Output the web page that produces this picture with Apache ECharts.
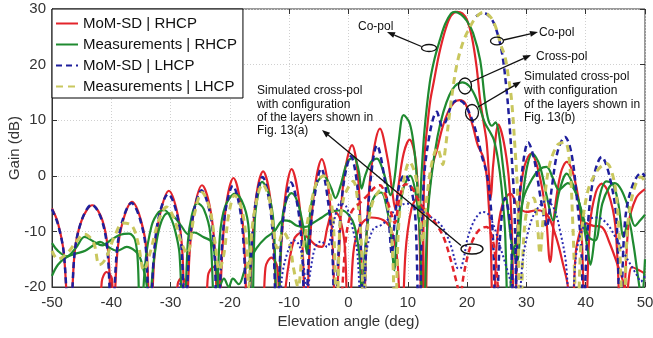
<!DOCTYPE html>
<html><head><meta charset="utf-8">
<script src="https://cdn.jsdelivr.net/npm/echarts@6/dist/echarts.min.js"></script>
<style>html,body{margin:0;padding:0;background:#fff}#c{width:653px;height:338px}</style>
</head><body><div id="c"></div><script>
const xTicks = [-50,-40,-30,-20,-10,0,10,20,30,40,50];
const yTicks = [-20,-10,0,10,20,30];
const legendNames = ['MoM-SD | RHCP','Measurements | RHCP','MoM-SD | LHCP','Measurements | LHCP'];

// MoM-SD | RHCP (red solid) - co-pol
const momRhcpCo = [[-50,-5.9],[-49,-8.5],[-48,-14],[-47,-30],
[-46.2,-14],[-45,-8],[-43.2,-5.3],[-41.5,-8],[-40.5,-14],[-39.8,-30],
[-39,-14],[-38,-8],[-36.5,-4.7],[-35,-8],[-34,-14],[-33.5,-30],
[-32.7,-14],[-31.8,-7],[-30.3,-2.7],[-28.8,-7],[-28,-14],[-27.5,-30],
[-26.8,-14],[-26,-6],[-24.7,-1.7],[-23.3,-6],[-22.5,-14],[-22,-30],
[-21.3,-14],[-20.6,-5],[-19.4,-0.4],[-18.2,-5],[-17.5,-14],[-17,-30],
[-16.3,-14],[-15.6,-4],[-14.4,0.8],[-13.2,-4],[-12.5,-14],[-12,-30],
[-11.4,-14],[-10.7,-4],[-9.6,1.2],[-8.4,-4],[-7.7,-14],[-7.2,-30],
[-6.6,-14],[-5.8,-3],[-4.5,3],[-3.3,-3],[-2.6,-14],[-2.2,-30],
[-1.6,-14],[-0.8,-0.5],[0.6,5.5],[1.6,0],[2.1,-12],[2.5,-30],
[3,-12],[3.8,1],[5.3,8.5],[6.6,3],[7.4,-3],[7.9,-6],[8.4,-2],[9.3,4],[10.3,6.5],[11.3,3],[11.9,-8],[12.4,-30],
[12.8,3],[13.3,9],[13.8,13.6],[14.4,17],[15.3,22],[16.4,26.5],[17.3,28.8],[18.3,29.5],[19.2,29.2],[20,28],[20.8,25],[21.6,19.6],[22.2,13.6],[22.8,9.5],[23.3,6],[23.7,0],[24,-4],[24.4,2],[25.3,9.2],[26.2,6],[27,0],[27.5,-8],[28,-30],
[28.6,-8],[29.5,1],[30.8,4],[32,1],[33.2,-6],[34,-15.5],[34.8,-6],[35.8,0.5],[36.8,2.5],[38,0],[39.2,-8],[39.9,-30],[40.7,-9],[41.7,-3],[42.7,-1.4],[43.8,-3],[45,-9],[46.1,-30],[47.2,-9],[48.5,-4],[50,-2.4]];

// MoM-SD | RHCP (red solid) - cross-pol
const momRhcpX = [[-50,-32],[-42.3,-32],[-41.6,-19],[-40.8,-17.3],[-39.9,-18.5],[-39.3,-32],[-29.5,-32],[-28.8,-19.5],[-28.1,-18.3],[-27.4,-19.5],[-26.8,-32],[-24.4,-32],[-23.7,-18],[-22.8,-16.4],[-21.8,-18],[-21,-32],[-14.8,-32],[-14,-16.5],[-13,-14.7],[-12,-16.5],[-11.3,-32],[-10.6,-20],[-9.2,-11.5],[-7.9,-10.2],[-6.7,-11.3],[-5.5,-12.5],[-4.5,-12.8],[-3.5,-9],[-2.6,-6.2],[-1.5,-7.5],[-0.6,-13],[0,-32],[0.8,-14],[2,-9],[3.8,-7.5],[5.9,-8],[7.3,-10],[8.3,-16],[8.9,-32],[9.6,-14],[10.6,-6],[11.6,-4],[12.4,-7],[12.9,-32],
[13.4,-6],[14.2,2],[14.9,4.6],[15.8,8.5],[16.8,11.5],[17.8,13.2],[18.7,13.6],[19.7,13],[21,8.8],[21.8,5.5],[22.7,3.4],[23.3,0],[23.6,-4.4],[24,-12],[24.4,-32],[25,-12],[26,-5],[27.3,-3.2],[28.6,-5.5],[30,-6.5],[31.8,-6.2],[33.5,-7],[35,-11],[36.2,-16],[37,-20],[37.6,-32],[38.3,-14],[39.2,-9.5],[39.9,-8.5],[41.3,-9],[42.7,-9.2],[44,-12],[45.5,-16.4],[46.3,-19],[46.8,-22],[47.8,-16.4],[49,-17],[50,-17.6]];

// Measurements | RHCP (green solid) - co-pol
const measRhcpCo = [[-50,-12.1],[-49,-13.5],[-47.5,-14.5],[-46,-13],[-44.5,-11],[-43,-11.8],[-41.5,-12.5],[-40,-11.5],[-38.5,-10.6],[-37,-10.4],[-36,-11.5],[-35.5,-16],[-35.1,-30],[-34.3,-16],[-33.2,-9],[-32,-6.5],[-31,-6.2],[-30,-7.5],[-29.2,-10],[-28.5,-14],[-27.8,-30],[-27.1,-12],[-26.4,-7],[-25.5,-4.9],[-24.4,-6],[-23.3,-10.5],[-22.5,-30],[-21.7,-11],[-20.8,-5.5],[-19.1,-3.2],[-17.6,-5.5],[-16.8,-10],[-16.3,-30],[-15.8,-8],[-15.2,-3],[-14.6,-1.1],[-13.5,-3],[-12.6,-9],[-12,-30],[-11.2,-8],[-10.5,-4.5],[-9.6,-3.1],[-8.5,-5],[-7.5,-10],[-7,-14],[-6.4,-6],[-5.4,-1.5],[-4.2,0],[-3,-2],[-2.2,-4],[-1.4,-2],[-0.2,2.5],[0.9,3.3],[1.7,1],[2.2,-2.3],[2.8,0],[3.8,2.5],[4.8,3.1],[5.8,1],[6.6,-2],[7.1,-3.5],[7.7,-1],[8.5,6.5],[9.3,10.9],[10.3,9.5],[11,5.5],[11.5,0],[11.9,-8],[12.3,0],[12.8,8],[13.7,16.7],[14.5,21],[15.4,24.4],[16.3,27.3],[17.3,29.2],[18,29.5],[19,29],[20,27.8],[21,25.7],[22.2,20.8],[23,13.6],[23.6,10],[24.2,9],[24.8,9.6],[25.3,8],[25.8,4],[26.7,-4.4],[27.5,-12],[28.4,-15.4],[29.2,-6],[30,1],[31,4],[32.2,2],[33.5,-4],[34.5,-8],[35.5,-3],[36.8,0.4],[38,-2],[39.5,-7],[40.5,-11],[41.6,-11.6],[42.8,-5],[44,-2],[44.9,-1.3],[46,-2.5],[47.3,-6],[48.3,-9],[49.2,-8],[50,-7]];

// Measurements | RHCP (green solid) - cross-pol
const measRhcpX = [[-50,-18],[-49,-16],[-47.5,-14.6],[-46,-14],[-44.4,-13.5],[-43,-12.5],[-41.9,-11.9],[-40.5,-12.8],[-39,-13.5],[-37.4,-12.8],[-36,-13.5],[-35.2,-14.6],[-34.3,-18],[-33.6,-22],[-32.8,-15],[-31.8,-9],[-30.5,-6.7],[-29.3,-7.5],[-28.2,-9],[-27,-10.5],[-26,-10.2],[-24.5,-11],[-23,-12],[-22.4,-16],[-21.8,-20],[-21,-18.5],[-20.2,-20],[-19.5,-18.5],[-18.5,-19.5],[-17.5,-17],[-16.5,-15],[-15.5,-13],[-14,-11.2],[-12.5,-10],[-11,-8],[-9.8,-8.2],[-8.7,-9],[-7.3,-9.2],[-6,-8.5],[-4.5,-7.5],[-3,-6.5],[-1.2,-6.2],[0,-7],[1,-9],[1.8,-14],[2.3,-22],[2.8,-13],[3.6,-6],[4.5,-3.5],[5.5,-3],[6.5,-6],[7.2,-11],[7.7,-17],[8.2,-10],[9.2,-2.5],[10.4,0],[11.3,-3],[12,-10],[12.6,-30],[13.3,-8],[14,0],[15,7],[16,11.5],[17,14.5],[18,16.2],[19.2,16.8],[20.3,16.2],[21.3,14.5],[22.2,12],[23,9.5],[23.8,8],[24.5,6.5],[25.2,3],[25.8,-2],[26.4,-10],[27,-30],[27.6,-14],[28.3,-12],[29.5,-4],[31,-0.5],[32.3,1.2],[33.4,1.6],[34.5,-0.5],[35.5,-2.5],[37,-1.3],[38.5,-3.5],[39.5,-8],[40.3,-13],[40.8,-16],[41.4,-12],[42.3,-4],[43.5,-1],[44.6,-1.5],[45.5,-5],[46.4,-11],[47.2,-8],[48,-12],[48.8,-18],[49.4,-22],[50,-15]];

// MoM-SD | LHCP (blue dashed)
const momLhcp = [[-50,-6],[-49,-8.7],[-48,-14],[-47,-30],[-46.2,-14],[-45,-8],[-43.3,-5.2],[-41.6,-8],[-40.6,-14],[-39.9,-30],[-39.1,-14],[-38.1,-8],[-36.6,-4.9],[-35.1,-8],[-34.1,-14],[-33.6,-30],[-32.8,-14],[-31.9,-7],[-30.4,-3.3],[-28.9,-7],[-28.1,-14],[-27.6,-30],[-26.9,-14],[-26.1,-6.5],[-24.8,-2.6],[-23.4,-6.5],[-22.6,-14],[-22.1,-30],[-21.4,-14],[-20.7,-6],[-19.5,-1.8],[-18.3,-6],[-17.6,-14],[-17.1,-30],[-16.4,-14],[-15.7,-5],[-14.5,-0.2],[-13.3,-5],[-12.6,-14],[-12.1,-30],[-11.5,-14],[-10.8,-6],[-9.7,-1.2],[-8.5,-6],[-7.8,-14],[-7.3,-30],[-6.7,-14],[-5.9,-5],[-4.6,1.3],[-3.4,-5],[-2.7,-14],[-2.3,-30],[-1.7,-14],[-0.9,-2],[0.4,3.5],[1.5,-2],[2.1,-14],[2.5,-30],[3,-12],[3.7,-1],[4.8,5.5],[6,0],[6.8,-8],[7.3,-14],[7.8,-8],[8.6,-1.5],[9.5,0.2],[10.5,-2],[11.3,-8],[11.9,-30],[12.5,-5],[13.3,5],[14.9,11.5],[15.8,9],[16.5,10],[17.5,13],[18.5,13.6],[19.5,13],[20.5,11],[21.6,7.6],[22.5,3.5],[23.3,0.5],[23.9,-4.4],[24.4,-12],[24.9,-30],[25.5,-12],[26.4,-4],[27.3,-9],[27.9,-30],[28.6,-8],[29.3,1],[30.3,6],[31.3,3],[32.4,-4],[33.4,-9.2],[34.3,-2],[35.3,4.5],[36.5,7],[37.6,4],[38.6,-5],[39.3,-14],[39.6,-30],[40.2,-12],[41.2,-1],[42.7,3.4],[44,0],[45.2,-8],[45.8,-30],[46.5,-10],[47.5,-3],[49.4,0.5],[50,0]];
const momLhcpCo = [[21.5,28.7],[22.7,29.3],[24,28.4],[25,26],[25.9,22],[26.6,16],[27.1,10],[27.6,2],[28,-6],[28.4,-30]];

// Measurements | LHCP (yellow dashed)
const measLhcp = [[-50,-13.5],[-49,-15],[-47.5,-14],[-46,-12],[-44.5,-10.5],[-43,-12],[-42,-16],[-41,-15],[-39.5,-11],[-38,-8.5],[-36.5,-9],[-35.5,-12],[-34.5,-17],[-33.5,-14],[-32,-8],[-30.7,-5.6],[-29.3,-8],[-28.2,-12],[-27.2,-14],[-26,-7],[-24.7,-3],[-23.4,-6],[-22.5,-12],[-21.8,-17],[-21,-14],[-20.2,-7],[-19.2,-3.5],[-18,-6],[-17.2,-12],[-16.8,-20],[-16.3,-10],[-15.4,-4],[-14.5,-1.5],[-13.4,-4],[-12.6,-10],[-12,-13],[-11,-10.1],[-10,-12],[-9.2,-17],[-8.5,-20],[-7.8,-14],[-6.5,-6],[-5.3,-1],[-4.2,0],[-3,-4],[-2.4,-12],[-2,-30],[-1.5,-10],[-0.9,-4.4],[0,-2],[0.8,-1],[1.6,-5],[2.2,-13],[2.6,-30],[3,-12],[4,-5],[5.5,-2.5],[6.7,-6],[7.4,-13],[7.9,-30],[8.4,-10],[9.3,-1],[10.3,2.5],[11.3,0],[12,-6],[12.5,-12],[13,-6],[14,2],[15,5],[15.5,3.5],[15.9,2],[16.3,4.6],[17.2,12.5],[18.2,19.6],[19.3,24],[20.5,26.8],[21.5,28.5],[22.7,29.4],[24,28.5],[25,26.2],[25.7,23.5],[26.4,21.4],[27,17.5],[27.5,13.6],[28.1,4.6],[28.5,-3],[29,-30],[29.5,-12],[30.3,-5],[31.2,-4],[31.8,-8],[32.3,-14],[32.8,-8],[33.7,1],[35.2,5.5],[36.5,6],[37.3,2],[37.8,-8],[38.2,-20],[38.6,-30],[39.2,-12],[40.3,-3],[42,1],[43.5,2.2],[44.8,-1],[45.5,-8],[46,-20],[46.4,-30],[47,-10],[48,-3],[49.3,-0.2],[50,-1]];

// Simulated cross-pol, configuration of Fig. 13(a)
const sim13aDotted = [[-50,-30],[-29.6,-30],[-28.8,-20.5],[-28.1,-19.2],[-27.4,-20.5],[-26.6,-30],[-12.2,-30],[-11.2,-18],[-10.2,-13.5],[-9.2,-11.6],[-8.3,-12.5],[-7.6,-16],[-7,-21],[-6.4,-17],[-5.6,-12.8],[-4.6,-11.8],[-3.6,-12.8],[-3,-11],[-2.3,-7.5],[-1.4,-5],[-0.4,-5.5],[0.6,-9],[1.5,-14],[2.3,-30],[3,-14],[4.2,-9.5],[5.3,-9],[6.5,-8],[8,-6],[9.8,-5],[11,-5.5],[12.6,-6.5],[14,-7.5],[15.4,-8.6],[16.5,-10.5],[17.4,-13],[18.3,-16.5],[18.8,-16.7],[19.4,-15],[20,-11.6],[20.8,-9],[21.6,-7.4],[22.6,-6.5],[23.5,-6.8],[24.5,-9],[25.5,-12.5],[26.5,-16],[27.5,-20],[28.4,-30],[29.3,-16],[30.3,-10],[31.5,-6.5],[33.4,-4.5],[34.7,-6],[35.7,-10],[36.7,-16],[37.5,-30],[38.3,-15],[39.3,-10],[40.7,-7.8],[42,-7.5],[43.5,-8.5],[45,-11],[46.5,-14],[47.8,-16.4],[48.7,-18],[49.3,-19],[50,-18]];
const sim13aRed = [[-1.5,-30],[-0.5,-12],[0.5,-6.5],[1.8,-5],[3.2,-3.5],[4.5,-2],[5.3,-1.7],[6.1,-3],[7,-6],[7.8,-8.5],[8.6,-4],[9.6,-1.5],[10.6,-2],[11.6,-4],[12.4,-5.5],[13.5,-7],[15,-9],[16.2,-11.5],[17.2,-15],[18.3,-19.5],[18.8,-22],[19.4,-18],[20.2,-14],[21.2,-11],[22.3,-9.5],[23.3,-9.2],[24.2,-11],[24.8,-15],[25.3,-22],[25.8,-30]];

const RED = '#e3242b', GREEN = '#1f8a30', BLUE = '#1f1f9c', YEL = '#c9c75e';
function ln(name, data, color, width, type, z) {
  return {type:'line', name, data, symbol:'none', showSymbol:false, smooth:0.35,
    lineStyle:{color, width, type}, itemStyle:{color}, z, silent:true, animation:false, clip:true};
}
const series = [
  ln(legendNames[0], momRhcpCo, RED, 2.2, 'solid', 2),
  ln(legendNames[0], momRhcpX, RED, 2.2, 'solid', 2),
  ln(legendNames[1], measRhcpCo, GREEN, 2.2, 'solid', 3),
  ln(legendNames[1], measRhcpX, GREEN, 2.2, 'solid', 3),
  ln(legendNames[2], momLhcp, BLUE, 2.5, [6,4], 4),
  ln(legendNames[2], momLhcpCo, BLUE, 2.5, [6,4], 4),
  ln(legendNames[3], measLhcp, YEL, 3, [7,5], 5),
  ln('sim13a-dotted', sim13aDotted, '#2a2ab0', 2, [2,2.5], 6),
  ln('sim13a-red', sim13aRed, RED, 2.5, [6,4], 6)
];

function arrow(x1,y1,x2,y2){
  const a = Math.atan2(y2-y1, x2-x1), L = 8, W = 3;
  const bx = x2 - L*Math.cos(a), by = y2 - L*Math.sin(a);
  return [
    {type:'line', z:50, shape:{x1,y1,x2:bx,y2:by}, style:{stroke:'#111', lineWidth:1.3}},
    {type:'polygon', z:50, shape:{points:[[x2,y2],[bx+W*Math.sin(a),by-W*Math.cos(a)],[bx-W*Math.sin(a),by+W*Math.cos(a)]]}, style:{fill:'#111'}}
  ];
}
function ell(cx,cy,rx,ry){ return {type:'ellipse', z:50, shape:{cx,cy,rx,ry}, style:{fill:null, stroke:'#111', lineWidth:1.3}}; }
function txt(x,y,t){ return {type:'text', z:50, x, y, style:{text:t, fill:'#111', font:'12px "Liberation Sans", Arial, sans-serif', verticalAlign:'middle'}}; }

const graphics = [].concat(
  [txt(358,27,'Co-pol'), txt(539,33,'Co-pol'), txt(536,57,'Cross-pol')],
  [txt(524,77,'Simulated cross-pol'), txt(524,91,'with configuration'), txt(524,104.5,'of the layers shown in'), txt(524,118,'Fig. 13(b)')],
  [txt(257,91,'Simulated cross-pol'), txt(257,104.5,'with configuration'), txt(257,118,'of the layers shown in'), txt(257,131,'Fig. 13(a)')],
  [ell(429,48,7.5,3.5), ell(497,41,6.5,3.8), ell(465,86,6.5,8), ell(472,112.5,6.5,8), ell(472,249,11,5)],
  arrow(421.5,46.5,387,32), arrow(503.5,40,538,32), arrow(471,82,531,55), arrow(478,107,521,81.5), arrow(461,245.5,322,130)
);

const chart = echarts.init(document.getElementById('c'), null, {renderer:'canvas'});
const axisFont = {fontFamily:'"Liberation Sans", Arial, sans-serif', fontSize:15, color:'#333'};
chart.setOption({
  animation:false,
  backgroundColor:'#fff',
  grid:{left:52, right:8, top:9, bottom:51, outerBoundsMode:'none', containLabel:false, show:true, borderColor:'#333', borderWidth:1, backgroundColor:'transparent'},
  xAxis:[{type:'value', min:xTicks[0], max:xTicks[xTicks.length-1], interval:10,
    name:'Elevation angle (deg)', nameLocation:'middle', nameGap:27, nameMoveOverlap:false, nameTextStyle:axisFont,
    axisLine:{show:true, onZero:false, lineStyle:{color:'#333'}}, axisTick:{show:true, inside:true, length:5, lineStyle:{color:'#333'}},
    axisLabel:Object.assign({margin:8}, axisFont),
    splitLine:{show:true, lineStyle:{color:'#d0d0d0', type:[1,2], width:1}}},
   {type:'value', position:'top', min:xTicks[0], max:xTicks[xTicks.length-1], interval:10,
    axisLine:{show:false, onZero:false}, axisTick:{show:true, inside:true, length:5, lineStyle:{color:'#333'}}, axisLabel:{show:false}, splitLine:{show:false}}],
  yAxis:[{type:'value', min:yTicks[0], max:yTicks[yTicks.length-1], interval:10,
    name:'Gain (dB)', nameLocation:'middle', nameGap:30, nameMoveOverlap:false, nameTextStyle:axisFont,
    axisLine:{show:true, onZero:false, lineStyle:{color:'#333'}}, axisTick:{show:true, inside:true, length:5, lineStyle:{color:'#333'}},
    axisLabel:Object.assign({margin:6}, axisFont),
    splitLine:{show:true, lineStyle:{color:'#d0d0d0', type:[1,2], width:1}}},
   {type:'value', position:'right', min:yTicks[0], max:yTicks[yTicks.length-1], interval:10,
    axisLine:{show:false, onZero:false}, axisTick:{show:true, inside:true, length:5, lineStyle:{color:'#333'}}, axisLabel:{show:false}, splitLine:{show:false}}],
  legend:{data:legendNames, orient:'vertical', left:52, top:9, z:60,
    padding:[6,6,3,3], itemGap:4, itemWidth:22, itemHeight:14,
    itemStyle:{opacity:0},
    backgroundColor:'#fff', borderColor:'#000', borderWidth:1, borderRadius:0,
    textStyle:{fontFamily:'"Liberation Sans", Arial, sans-serif', fontSize:15, color:'#111', lineHeight:17}},
  graphic:graphics,
  series:series
});
</script></body></html>
